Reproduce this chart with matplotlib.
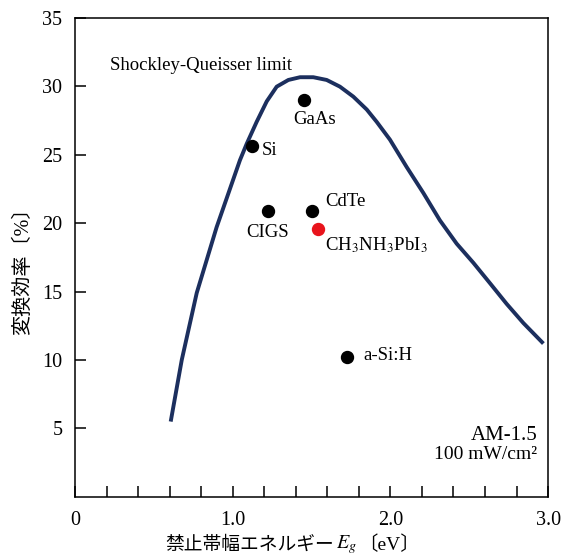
import matplotlib
matplotlib.use("Agg")
import matplotlib.pyplot as plt

plt.rcParams['font.family'] = ['Liberation Serif', 'Noto Sans CJK JP']
plt.rcParams['mathtext.fontset'] = 'stix'

# Shockley-Queisser limit
sq_eg = [0.607, 0.677, 0.772, 0.898, 1.046, 1.089, 1.152, 1.216, 1.279, 1.353,
         1.427, 1.511, 1.596, 1.68, 1.765, 1.85, 1.913, 1.997, 2.103, 2.209,
         2.314, 2.42, 2.526, 2.632, 2.737, 2.843, 2.97]
sq_eff = [5.5, 10.0, 14.9, 19.7, 24.6, 25.8, 27.4, 28.9, 29.97, 30.46,
          30.66, 30.66, 30.46, 29.97, 29.24, 28.3, 27.4, 26.1, 24.1, 22.2,
          20.2, 18.5, 17.1, 15.6, 14.1, 12.7, 11.2]

# cells
cell_names = ['GaAs', 'Si', 'CIGS', 'CdTe', 'a-Si:H']
cell_eg = [1.454, 1.124, 1.222, 1.505, 1.723]
cell_eff = [29.0, 25.6, 20.85, 20.9, 10.25]
pero_eg = 1.543
pero_eff = 19.6

W, H = 568, 557
fig = plt.figure(figsize=(W / 100, H / 100), dpi=100)
ax = fig.add_axes([0.132, 0.108, 0.833, 0.860])

ax.plot(sq_eg, sq_eff, color='#1c2f5e', lw=2.8, solid_capstyle='butt',
        solid_joinstyle='round')
ax.plot(cell_eg, cell_eff, 'o', color='black', ms=8.6)
ax.plot([pero_eg], [pero_eff], 'o', color='#e8141c', ms=8.6)

fs = 13.5
ax.text(0.222, 31.5, 'Shockley-Queisser limit', fontsize=fs, va='center', ha='left')
ax.text(1.52, 27.6, 'GaAs', fontsize=fs, ha='center', va='center')
ax.text(1.186, 25.3, 'Si', fontsize=fs, ha='left', va='center')
ax.text(1.22, 19.35, 'CIGS', fontsize=fs, ha='center', va='center')
ax.text(1.585, 21.6, 'CdTe', fontsize=fs, ha='left', va='center')
ax.text(1.585, 18.4, r'CH$_3$NH$_3$PbI$_3$', fontsize=fs, ha='left', va='center')
ax.text(1.826, 10.3, 'a-Si:H', fontsize=fs, ha='left', va='center')
ax.text(2.93, 4.5, 'AM-1.5', fontsize=15, ha='right', va='center')
ax.text(2.93, 3.1, '100 mW/cm²', fontsize=14, ha='right', va='center')

ax.set_xlim(0, 3.0)
ax.set_ylim(0, 35)
ax.set_xticks([0, 1.0, 2.0, 3.0])
ax.set_xticklabels(['0', '1.0', '2.0', '3.0'])
ax.set_xticks([0.2 * i for i in range(1, 15)], minor=True)
ax.set_yticks([5, 10, 15, 20, 25, 30, 35])
ax.tick_params(axis='both', direction='in', length=8, width=1.1, labelsize=14.5)
ax.tick_params(axis='x', which='minor', direction='in', length=8, width=1.1)
ax.tick_params(axis='x', pad=10)
ax.tick_params(axis='y', pad=9)
for s in ax.spines.values():
    s.set_linewidth(1.1)

# x label in three pieces (mathtext would drop the kana)
ly = 1 - 545 / H
fig.text(165 / W, ly, '禁止帯幅エネルギー', fontsize=13.5, ha='left', va='center')
fig.text(336 / W, ly, r'$E_g$', fontsize=14.5, ha='left', va='center')
fig.text(358 / W, ly, '〔eV〕', fontsize=14, ha='left', va='center')

fig.text(23 / W, 1 - 266 / H, '変換効率〔%〕', fontsize=14.5, rotation=90,
         ha='center', va='center')

fig.savefig('out.png', dpi=100)
